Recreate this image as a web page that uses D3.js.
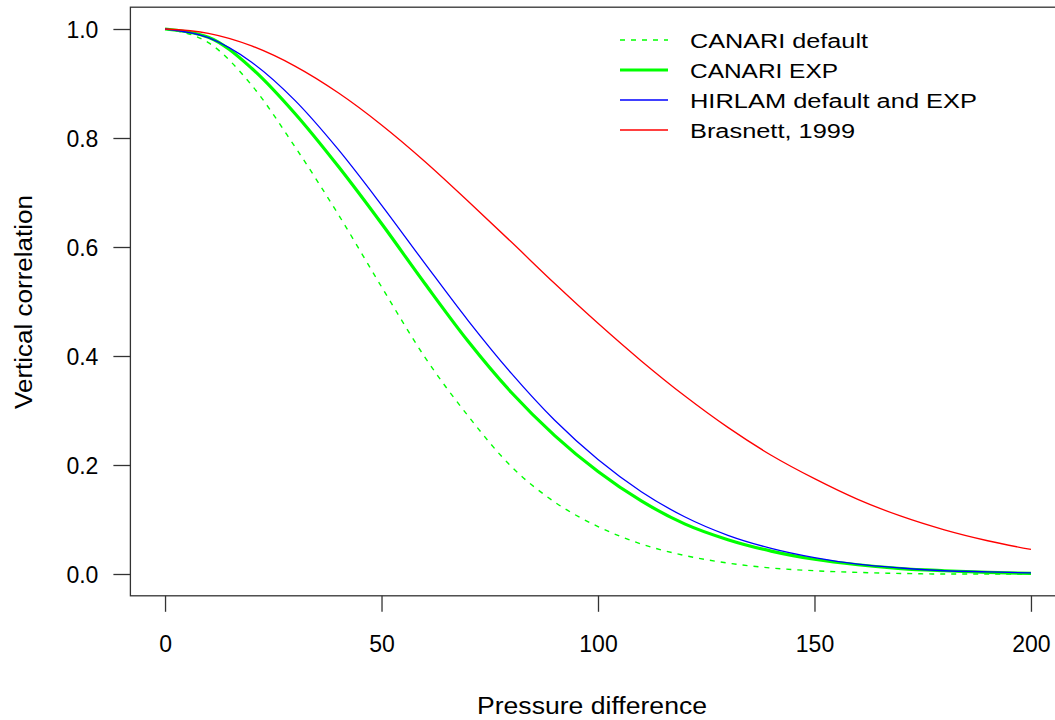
<!DOCTYPE html>
<html>
<head>
<meta charset="utf-8">
<script src="https://cdn.jsdelivr.net/npm/d3@7"></script>
<style>
  body { margin: 0; background: #fff; }
  svg text { font-family: "Liberation Sans", Arial, Helvetica, sans-serif; fill: #000; }
</style>
</head>
<body>
<svg width="1055" height="720"></svg>
<script>
var pressure = [0, 10, 20, 30, 40, 50, 60, 70, 80, 90, 100, 110, 120, 130, 140, 150, 160, 170, 180, 190, 200];
var canariDefault = [1.000, 0.975, 0.897, 0.784, 0.660, 0.527, 0.398, 0.290, 0.197, 0.132, 0.087, 0.055, 0.034, 0.020, 0.011, 0.006, 0.003, 0.001, 0.000, 0.000, 0.000];
var canariExp = [1.000, 0.985, 0.928, 0.845, 0.748, 0.643, 0.533, 0.427, 0.333, 0.254, 0.188, 0.134, 0.092, 0.063, 0.042, 0.027, 0.017, 0.010, 0.006, 0.003, 0.001];
var hirlam = [1.000, 0.984, 0.939, 0.869, 0.779, 0.677, 0.570, 0.465, 0.368, 0.282, 0.210, 0.151, 0.105, 0.071, 0.047, 0.030, 0.018, 0.011, 0.006, 0.004, 0.002];
var brasnett = [1.000, 0.992, 0.969, 0.932, 0.883, 0.824, 0.757, 0.684, 0.609, 0.533, 0.460, 0.391, 0.327, 0.269, 0.218, 0.175, 0.137, 0.106, 0.081, 0.061, 0.045];

var seriesNames = ["CANARI default", "CANARI EXP", "HIRLAM default and EXP", "Brasnett, 1999"];
var xTicks = [0, 50, 100, 150, 200];
var yTicks = [0, 0.2, 0.4, 0.6, 0.8, 1.0];

var svg = d3.select("svg");

// R style: data range padded by 4% on each side
var x = d3.scaleLinear().domain([-8, 208]).range([130.4, 1065.6]);
var y = d3.scaleLinear().domain([-0.04, 1.04]).range([595.8, 7.2]);

var series = [
  {name: seriesNames[0], values: canariDefault, color: "#00ff00", width: 1.4, dash: "5,6"},
  {name: seriesNames[1], values: canariExp, color: "#00ff00", width: 3.2, dash: null},
  {name: seriesNames[2], values: hirlam, color: "#0000ff", width: 1.3, dash: null},
  {name: seriesNames[3], values: brasnett, color: "#ff0000", width: 1.3, dash: null}
];

var line = d3.line()
    .x(function(d) { return x(d[0]); })
    .y(function(d) { return y(d[1]); })
    .curve(d3.curveMonotoneX);

// curves, in legend order
svg.append("g").selectAll("path")
  .data(series)
  .enter().append("path")
    .attr("fill", "none")
    .attr("stroke", function(d) { return d.color; })
    .attr("stroke-width", function(d) { return d.width; })
    .attr("stroke-dasharray", function(d) { return d.dash; })
    .attr("d", function(d) { return line(d3.zip(pressure, d.values)); });

// plot box
svg.append("rect")
    .attr("x", x.range()[0])
    .attr("y", y.range()[1])
    .attr("width", x.range()[1] - x.range()[0])
    .attr("height", y.range()[0] - y.range()[1])
    .attr("fill", "none")
    .attr("stroke", "#333")
    .attr("stroke-width", 1.3);

// x axis
var xAxis = d3.axisBottom(x).tickValues(xTicks).tickSize(16).tickPadding(24)
    .tickFormat(d3.format("d"));
var gx = svg.append("g").attr("transform", "translate(0," + y.range()[0] + ")").call(xAxis);
gx.select(".domain").remove();
gx.selectAll(".tick line").attr("stroke", "#333").attr("stroke-width", 1.3);
gx.selectAll(".tick text").attr("font-size", 23).attr("font-family", "Liberation Sans, Arial, sans-serif")
    .attr("fill", "#000");

// y axis
var yAxis = d3.axisLeft(y).tickValues(yTicks).tickSize(17).tickPadding(15)
    .tickFormat(d3.format(".1f"));
var gy = svg.append("g").attr("transform", "translate(" + x.range()[0] + ",0)").call(yAxis);
gy.select(".domain").remove();
gy.selectAll(".tick line").attr("stroke", "#333").attr("stroke-width", 1.3);
gy.selectAll(".tick text").attr("font-size", 23).attr("font-family", "Liberation Sans, Arial, sans-serif")
    .attr("fill", "#000").attr("dy", "0.36em");

// axis titles
svg.append("text")
    .attr("x", 592)
    .attr("y", 714)
    .attr("text-anchor", "middle")
    .attr("font-size", 23)
    .attr("textLength", 230)
    .attr("lengthAdjust", "spacingAndGlyphs")
    .text("Pressure difference");

svg.append("text")
    .attr("transform", "translate(32,302) rotate(-90)")
    .attr("text-anchor", "middle")
    .attr("font-size", 23)
    .attr("textLength", 214)
    .attr("lengthAdjust", "spacingAndGlyphs")
    .text("Vertical correlation");

// legend
var legendWidths = [178, 148, 287, 165];
var legend = svg.append("g").selectAll("g")
  .data(series)
  .enter().append("g")
    .attr("transform", function(d, i) { return "translate(620," + (40 + i * 30) + ")"; });

legend.append("line")
    .attr("x1", 0).attr("x2", 48)
    .attr("stroke", function(d) { return d.color; })
    .attr("stroke-width", function(d) { return d.width; })
    .attr("stroke-dasharray", function(d) { return d.dash; });

legend.append("text")
    .attr("x", 70)
    .attr("y", 7.5)
    .attr("font-size", 20)
    .attr("textLength", function(d, i) { return legendWidths[i]; })
    .attr("lengthAdjust", "spacingAndGlyphs")
    .text(function(d) { return d.name; });
</script>
</body>
</html>
